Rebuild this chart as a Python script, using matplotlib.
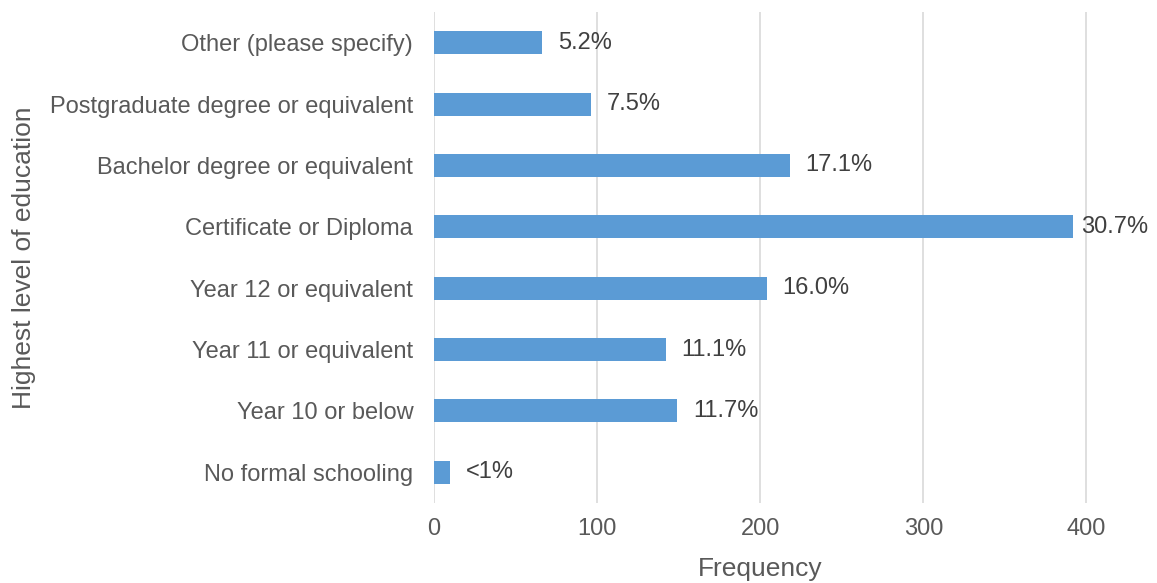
import matplotlib
matplotlib.use("Agg")
import matplotlib.pyplot as plt

categories = [
    "No formal schooling",
    "Year 10 or below",
    "Year 11 or equivalent",
    "Year 12 or equivalent",
    "Certificate or Diploma",
    "Bachelor degree or equivalent",
    "Postgraduate degree or equivalent",
    "Other (please specify)",
]
frequency = [10, 149, 142, 204, 392, 218, 96, 66]
pct_labels = ["<1%", "11.7%", "11.1%", "16.0%", "30.7%", "17.1%", "7.5%", "5.2%"]
x_ticks = [0, 100, 200, 300, 400]

plt.rcParams["font.family"] = ["Liberation Sans", "DejaVu Sans"]
text_color = "#595959"

W, H = 1157, 583
fig = plt.figure(figsize=(W / 100, H / 100), dpi=100)
ax = fig.add_axes([434 / W, 80 / H, (1119 - 434) / W, (503 - 12) / H])

y = range(len(categories))
ax.barh(y, frequency, height=0.375, color="#5B9BD5", zorder=2)
for yi, v, lab in zip(y, frequency, pct_labels):
    # labels near the right edge get pulled in closer to the bar
    off = 11.5 if v < 380 else 5.5
    ax.annotate(lab, (v, yi), xytext=(off, 0), textcoords="offset points",
                va="center", ha="left", fontsize=17, color="#404040")

ax.set_xlim(0, 420)
ax.set_ylim(-0.5, len(categories) - 0.5)
ax.set_yticks(list(y))
ax.set_yticklabels(categories, fontsize=17, color=text_color)
ax.set_xticks(x_ticks)
ax.set_xticklabels([str(t) for t in x_ticks], fontsize=17, color=text_color)
ax.tick_params(length=0)
ax.tick_params(axis="y", pad=15)
ax.tick_params(axis="x", pad=11)
ax.grid(axis="x", color="#D9D9D9", linewidth=1.2, zorder=0)
for s in ax.spines.values():
    s.set_visible(False)

ax.set_xlabel("Frequency", fontsize=19, color=text_color, labelpad=12)
ax.xaxis.label.set_x((760 - 434) / (1119 - 434))
ax.set_ylabel("Highest level of education", fontsize=19, color=text_color)
ax.yaxis.set_label_coords((36 - 434) / (1119 - 434), 0.5)

fig.savefig("out.png", dpi=100)
